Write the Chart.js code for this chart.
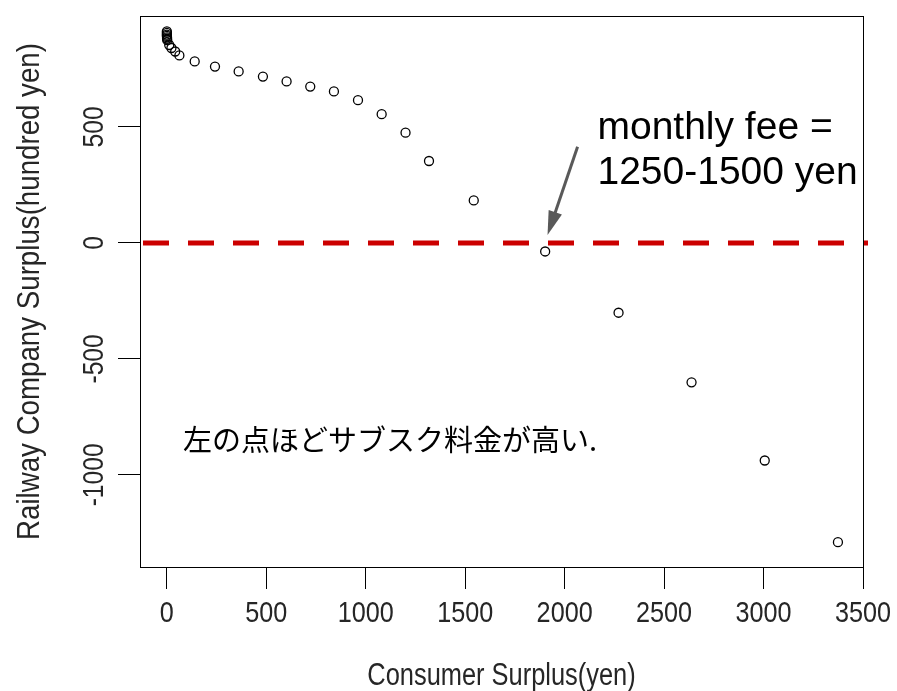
<!DOCTYPE html>
<html>
<head>
<meta charset="utf-8">
<script src="https://cdn.jsdelivr.net/npm/chart.js@4.4.1/dist/chart.umd.min.js"></script>
<style>
  body { margin: 0; background: #fff; }
  #wrap { width: 897px; height: 691px; }
</style>
</head>
<body>
<div id="wrap"><canvas id="surplusChart" width="897" height="691"></canvas></div>
<script>
// values
const consumerSurplus = [0, 0, 0, 0, 1, 1, 2, 12, 23, 42, 63, 140, 242, 361, 483, 602, 721, 840, 961, 1080, 1200, 1318, 1543, 1902, 2271, 2638, 3006, 3374];
const companySurplus = [912, 905, 898, 892, 886, 880, 874, 853, 840, 825, 808, 782, 760, 739, 717, 696, 674, 653, 615, 555, 475, 353, 183, -37, -301, -601, -938, -1290];

const xTicks = [0, 500, 1000, 1500, 2000, 2500, 3000, 3500];
const yTicks = [-1000, -500, 0, 500];
const breakEven = 0;

const xTitle = 'Consumer Surplus(yen)';
const yTitle = 'Railway Company Surplus(hundred yen)';
const feeNote = ['monthly fee =', '1250-1500 yen'];
const leftNote = '左の点ほどサブスク料金が高い.';

const sans = '"Liberation Sans", Arial, sans-serif';

const points = consumerSurplus.map((x, i) => ({x: x, y: companySurplus[i]}));

// R draws its axis text with a narrow face; squeeze it horizontally
function narrowText(ctx, text, x, y, size, squeeze, rot, align) {
  ctx.save();
  ctx.translate(x, y);
  if (rot) ctx.rotate(rot);
  ctx.scale(squeeze, 1);
  ctx.font = size + 'px ' + sans;
  ctx.textAlign = align || 'center';
  ctx.textBaseline = 'alphabetic';
  ctx.fillText(text, 0, 0);
  ctx.restore();
}

const extras = {
  id: 'extras',
  afterDraw(chart) {
    const ctx = chart.ctx;
    const xs = chart.scales.x, ys = chart.scales.y;
    const a = chart.chartArea;

    // axis text
    ctx.save();
    ctx.fillStyle = '#262626';
    xTicks.forEach(v => narrowText(ctx, String(v), xs.getPixelForValue(v), 622, 30, 0.84));
    yTicks.forEach(v => narrowText(ctx, String(v), 103, ys.getPixelForValue(v), 30, 0.82, -Math.PI / 2));
    narrowText(ctx, xTitle, (a.left + a.right) / 2, 685, 31, 0.82);
    narrowText(ctx, yTitle, 38.5, (a.top + a.bottom) / 2, 32, 0.865, -Math.PI / 2);
    ctx.restore();

    // dashed break-even line
    const y0 = ys.getPixelForValue(breakEven);
    ctx.save();
    ctx.strokeStyle = '#cc0000';
    ctx.lineWidth = 5;
    ctx.setLineDash([26, 19]);
    ctx.beginPath();
    ctx.moveTo(a.left + 3, y0);
    ctx.lineTo(a.right + 5, y0);
    ctx.stroke();
    ctx.restore();

    // box
    ctx.save();
    ctx.strokeStyle = '#000';
    ctx.lineWidth = 1;
    ctx.strokeRect(Math.round(a.left) + 0.5, Math.round(a.top) + 0.5, Math.round(a.right - a.left), Math.round(a.bottom - a.top));
    ctx.restore();

    // arrow
    const tx = xs.getPixelForValue(1914), ty = ys.getPixelForValue(34);
    const sx = xs.getPixelForValue(2065), sy = ys.getPixelForValue(414);
    const ang = Math.atan2(ty - sy, tx - sx);
    ctx.save();
    ctx.strokeStyle = '#595959';
    ctx.fillStyle = '#595959';
    ctx.lineWidth = 3;
    ctx.beginPath();
    ctx.moveTo(sx, sy);
    ctx.lineTo(tx - 18 * Math.cos(ang), ty - 18 * Math.sin(ang));
    ctx.stroke();
    ctx.beginPath();
    ctx.moveTo(tx, ty);
    ctx.lineTo(tx - 24 * Math.cos(ang) + 7 * Math.sin(ang), ty - 24 * Math.sin(ang) - 7 * Math.cos(ang));
    ctx.lineTo(tx - 24 * Math.cos(ang) - 7 * Math.sin(ang), ty - 24 * Math.sin(ang) + 7 * Math.cos(ang));
    ctx.closePath();
    ctx.fill();
    ctx.restore();

    // notes
    ctx.save();
    ctx.fillStyle = '#000';
    ctx.textAlign = 'left';
    ctx.textBaseline = 'alphabetic';
    ctx.font = '39px ' + sans;
    const nx = xs.getPixelForValue(2165);
    ctx.fillText(feeNote[0], nx, ys.getPixelForValue(448));
    ctx.fillText(feeNote[1], nx, ys.getPixelForValue(448) + 45);
    ctx.font = '29px "Noto Sans CJK JP", sans-serif';
    ctx.textBaseline = 'middle';
    ctx.fillText(leftNote, xs.getPixelForValue(81), ys.getPixelForValue(-849));
    ctx.restore();
  }
};

new Chart(document.getElementById('surplusChart'), {
  type: 'scatter',
  data: {
    datasets: [{
      data: points,
      pointStyle: 'circle',
      pointRadius: 4.5,
      pointBorderWidth: 1.3,
      pointBorderColor: '#000',
      pointBackgroundColor: 'rgba(0,0,0,0)',
      showLine: false
    }]
  },
  options: {
    responsive: false,
    animation: false,
    devicePixelRatio: 1,
    layout: { padding: { top: 16, right: 34, left: 0, bottom: 0 } },
    plugins: { legend: { display: false }, tooltip: { enabled: false } },
    scales: {
      x: {
        type: 'linear',
        min: -135,
        max: 3500,
        afterBuildTicks: s => { s.ticks = xTicks.map(v => ({value: v})); },
        afterFit: s => { s.height = 124; },
        grid: { drawOnChartArea: false, drawTicks: true, tickLength: 22, tickColor: '#000', tickWidth: 1 },
        border: { display: true, color: '#000', width: 1 },
        ticks: { display: false }
      },
      y: {
        type: 'linear',
        min: -1397,
        max: 978,
        afterBuildTicks: s => { s.ticks = yTicks.map(v => ({value: v})); },
        afterFit: s => { s.width = 140; },
        grid: { drawOnChartArea: false, drawTicks: true, tickLength: 22, tickColor: '#000', tickWidth: 1 },
        border: { display: true, color: '#000', width: 1 },
        ticks: { display: false }
      }
    }
  },
  plugins: [extras]
});
</script>
</body>
</html>
